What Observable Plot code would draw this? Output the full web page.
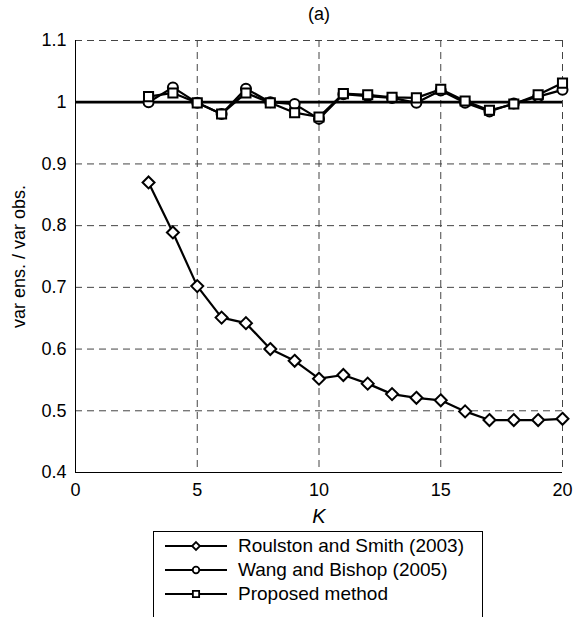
<!DOCTYPE html>
<html>
<head>
<meta charset="utf-8">
<script src="https://cdn.jsdelivr.net/npm/d3@7"></script>
<script src="https://cdn.jsdelivr.net/npm/@observablehq/plot@0.6"></script>
<style>
  html, body { margin: 0; padding: 0; background: #fff; }
  #wrap { position: relative; width: 573px; height: 617px; overflow: hidden; font-family: "Liberation Sans", Arial, sans-serif; }
  #legend { position: absolute; left: 153px; top: 531px; width: 330px; height: 100px; border: 1px solid #000; background: #fff; box-sizing: border-box; padding-top: 2px; }
  .item { display: flex; align-items: center; height: 24px; font-size: 19px; color: #000; }
  .item svg { margin-left: 10px; margin-right: 10px; }
</style>
</head>
<body>
<div id="wrap"><div id="chart"></div><div id="legend"></div></div>
<script>
const kValues = [3, 4, 5, 6, 7, 8, 9, 10, 11, 12, 13, 14, 15, 16, 17, 18, 19, 20];
const roulston = [0.870, 0.789, 0.702, 0.651, 0.642, 0.600, 0.581, 0.552, 0.558, 0.544, 0.527, 0.521, 0.517, 0.499, 0.485, 0.485, 0.485, 0.487];
const wang     = [1.000, 1.024, 0.999, 0.981, 1.022, 1.000, 0.997, 0.973, 1.013, 1.010, 1.007, 0.999, 1.019, 0.999, 0.985, 0.998, 1.009, 1.020];
const proposed = [1.009, 1.015, 0.999, 0.981, 1.015, 0.999, 0.983, 0.976, 1.014, 1.012, 1.008, 1.007, 1.021, 1.002, 0.987, 0.997, 1.012, 1.031];
const seriesNames = ["Roulston and Smith (2003)", "Wang and Bishop (2005)", "Proposed method"];
const seriesSymbols = ["diamond2", "circle", "square2"];
const xTicks = [0, 5, 10, 15, 20];
const yTicks = [0.4, 0.5, 0.6, 0.7, 0.8, 0.9, 1.0, 1.1];
const yTickLabels = ["0.4", "0.5", "0.6", "0.7", "0.8", "0.9", "1", "1.1"];
const referenceLevel = [1];
const titleText = "(a)";
const xLabel = "K";
const yLabel = "var ens. / var obs.";

const allSeries = [roulston, wang, proposed];
const rows = allSeries.flatMap((vals, s) => vals.map((v, i) => ({k: kValues[i], v, s: seriesNames[s]})));
const markerR = {"diamond2": 5.4, "circle": 5, "square2": 5.8};

const dash = "7,5";
const marks = [
  Plot.ruleX(xTicks.filter(d => d > 0), {stroke: "#444", strokeDasharray: dash, strokeWidth: 1}),
  Plot.ruleY(yTicks.filter(d => d > 0.4 && d !== 1), {stroke: "#444", strokeDasharray: dash, strokeWidth: 1}),
  Plot.ruleX([0], {stroke: "#000", strokeWidth: 1}),
  Plot.ruleY([0.4], {stroke: "#000", strokeWidth: 1}),
  Plot.ruleY(referenceLevel, {stroke: "#000", strokeWidth: 2.8}),
  Plot.axisX(xTicks, {tickSize: 0, tickPadding: 11, fontSize: 18, label: null}),
  Plot.axisY(yTicks, {tickSize: 0, tickPadding: 9, fontSize: 18, label: null, tickFormat: d => yTickLabels[yTicks.indexOf(d)]}),
];
seriesNames.forEach((name, s) => {
  const data = rows.filter(r => r.s === name);
  marks.push(Plot.line(data, {x: "k", y: "v", stroke: "#000", strokeWidth: 2.2}));
  marks.push(Plot.dot(data, {x: "k", y: "v", symbol: seriesSymbols[s], r: markerR[seriesSymbols[s]], fill: "#fff", stroke: "#000", strokeWidth: 2}));
});
marks.push(Plot.text([titleText], {frameAnchor: "top", dy: -26, lineAnchor: "middle", fontSize: 18}));
marks.push(Plot.text([xLabel], {frameAnchor: "bottom", dy: 44, lineAnchor: "middle", fontSize: 20, fontStyle: "italic"}));
marks.push(Plot.text([yLabel], {frameAnchor: "left", dx: -56, rotate: -90, textAnchor: "middle", lineAnchor: "middle", fontSize: 18}));

const chart = Plot.plot({
  width: 573,
  height: 530,
  marginLeft: 75,
  marginRight: 11,
  marginTop: 40,
  marginBottom: 58,
  x: {domain: [0, 20]},
  y: {domain: [0.4, 1.1]},
  style: {fontFamily: "Liberation Sans, Arial, sans-serif", fontSize: "18px", color: "#000", background: "#fff", overflow: "visible"},
  marks
});
document.getElementById("chart").appendChild(chart);

// Legend
const legend = document.getElementById("legend");
const symMap = {"diamond2": d3.symbolDiamond2, "circle": d3.symbolCircle, "square2": d3.symbolSquare2};
const symSize = {"diamond2": 40, "circle": 34, "square2": 50};
seriesNames.forEach((name, s) => {
  const item = document.createElement("div");
  item.className = "item";
  const sw = d3.create("svg").attr("width", 64).attr("height", 16);
  sw.append("line").attr("x1", 1).attr("x2", 63).attr("y1", 8).attr("y2", 8).attr("stroke", "#000").attr("stroke-width", 2);
  sw.append("path").attr("d", d3.symbol(symMap[seriesSymbols[s]], symSize[seriesSymbols[s]])()).attr("transform", "translate(32,8)")
    .attr("fill", "#fff").attr("stroke", "#000").attr("stroke-width", 1.8);
  item.appendChild(sw.node());
  const t = document.createElement("span");
  t.textContent = name;
  item.appendChild(t);
  legend.appendChild(item);
});
</script>
</body>
</html>
